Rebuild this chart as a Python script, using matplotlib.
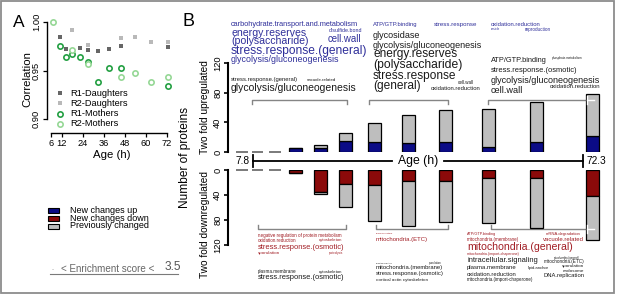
import matplotlib
matplotlib.use("Agg")
import matplotlib.pyplot as plt
from matplotlib.lines import Line2D
from matplotlib.patches import Rectangle
from matplotlib.transforms import blended_transform_factory

plt.rcParams['font.family'] = ['Liberation Sans', 'DejaVu Sans']

# ---------------- panel A data ----------------
AGE_TICKS = [6, 12, 24, 36, 48, 60, 72]
CORR_TICKS = [0.90, 0.95, 1.00]
R1_DAUGHTER_AGE = [11.1, 14.3, 22.5, 27.2, 32.5, 39.0, 45.8, 72.7]
R1_DAUGHTER_CORR = [0.985, 0.972, 0.973, 0.971, 0.970, 0.972, 0.975, 0.974]
R2_DAUGHTER_AGE = [18.1, 27.2, 45.8, 53.8, 62.9, 72.7]
R2_DAUGHTER_CORR = [0.992, 0.976, 0.983, 0.985, 0.979, 0.979]
R1_MOTHER_AGE = [11.1, 14.3, 18.1, 22.5, 27.2, 32.5, 39.0, 45.8, 72.7]
R1_MOTHER_CORR = [0.975, 0.964, 0.967, 0.964, 0.959, 0.938, 0.953, 0.953, 0.934]
R2_MOTHER_AGE = [7.3, 18.1, 27.2, 45.8, 53.8, 62.9, 72.7]
R2_MOTHER_CORR = [1.000, 0.971, 0.957, 0.943, 0.947, 0.938, 0.943]

# ---------------- panel B data ----------------
AGE_START, AGE_END = 7.8, 72.3
COUNT_TICKS = [0, 40, 80, 120]
EARLY_AGE = [5.6, 8.7, 12.1]          # time points with no changes
BAR_AGE = [16.2, 20.9, 25.8, 31.5, 38.1, 45.5, 53.9, 63.3, 74.1]
UP_NEW = [5, 5, 15, 13, 12, 14, 7, 13, 22]
UP_PREV = [0, 5, 10, 26, 38, 42, 51, 55, 56]
DOWN_NEW = [4, 35, 23, 24, 18, 18, 12, 12, 41]
DOWN_PREV = [0, 4, 36, 57, 72, 65, 72, 81, 71]
UP_GROUPS = [(7.6, 26.2), (30.5, 45.9), (53.7, 73.1)]
DOWN_GROUPS = [(8.8, 26.0), (31.8, 45.9), (54.3, 73.1)]
LEGEND_LABELS = ["New changes up", "New changes down", "Previously changed"]

UP_CLOUD_NEW = ["carbohydrate.transport.and.metabolism", "energy.reserves", "(polysaccharide)",
                "disulfide.bond", "cell.wall", "stress.response.(general)", "glycolysis/gluconeogenesis",
                "ATP/GTP.binding", "stress.response",
                "oxidation.reduction", "vesicle", "reproduction"]
UP_CLOUD_PREV = ["stress.response.(general)", "vacuole.related", "glycolysis/gluconeogenesis",
                 "glycosidase", "glycolysis/gluconeogenesis", "energy.reserves", "(polysaccharide)",
                 "stress.response", "(general)", "cell.wall", "oxidation.reduction",
                 "ATP/GTP.binding", "phosphate.metabolism", "stress.response.(osmotic)",
                 "glycolysis/gluconeogenesis", "cell.wall", "oxidation.reduction"]
DOWN_CLOUD_NEW = ["negative regulation of protein metabolism", "oxidation.reduction", "cytoskeleton",
                  "stress.response.(osmotic)", "sporulation", "proteolysis",
                  "phosphorylation", "mitochondria.(ETC)",
                  "ATP/GTP.binding", "mRNA.degradation", "mitochondria.(membrane)", "vacuole.related",
                  "mitochondria.(general)", "mitochondria.(import-chaperone)"]
DOWN_CLOUD_PREV = ["plasma.membrane", "cytoskeleton", "stress.response.(osmotic)",
                   "oxidation.reduction", "sporulation", "mitochondria.(membrane)",
                   "stress.response.(osmotic)", "cortical actin cytoskeleton",
                   "intracellular.signaling", "mitochondria.(general)", "mitochondria.(ETC)",
                   "plasma.membrane", "lipid.anchor", "sporulation", "endosome",
                   "oxidation.reduction", "DNA.replication", "mitochondria.(import-chaperone)"]

# layout of the word clouds: (left px, right px, centre y px)
UP_NEW_BOX = [(231, 360, 25), (231, 306, 32.5), (231, 308, 41), (329, 362, 31), (328, 362, 39.5),
              (231, 367, 51), (231, 339, 59.5),
              (373, 418, 24.5), (434, 477, 24.5),
              (491, 541, 24), (491, 500, 29), (525, 551, 30)]
UP_PREV_BOX = [(231, 298, 79), (307, 337, 79.5), (231, 357, 88),
               (373, 420, 35), (373, 482, 45.5), (373, 458, 54.5), (373, 462, 65.5), (373, 457, 76),
               (373, 421, 86.5), (458, 474, 83), (431, 481, 88.5),
               (491, 547, 60), (552, 582, 58), (491, 577, 70), (491, 600, 80.5), (491, 523, 90),
               (550, 601, 86)]
DOWN_NEW_BOX = [(258, 341, 236), (258, 296, 240.5), (319, 343, 240.5), (258, 344, 247.5),
                (258, 280, 253), (329, 343, 253),
                (376, 393, 233), (376, 428, 239),
                (467, 496, 234.5), (546, 581, 234.5), (467, 519, 240), (543, 584, 239.5),
                (467, 573, 247.5), (467, 520, 254)]
DOWN_PREV_BOX = [(258, 296, 272), (319, 343, 272), (258, 344, 277.5),
                 (376, 393, 263), (429, 442, 263), (376, 444, 267.5), (376, 443, 274),
                 (376, 427, 279.5),
                 (467, 537, 260), (554, 581, 257.5), (544, 584, 262), (467, 517, 267.5),
                 (528, 550, 268), (562, 584, 266.5), (563, 584, 270.5), (467, 517, 274.5),
                 (543, 584, 276), (467, 533, 279.5)]

BLUE, RED, GREY = '#0b0b86', '#8b0a0a', '#bebebe'
TXT_BLUE, TXT_RED, TXT_BLACK = '#2f2f9a', '#a11d24', '#1a1a1a'

W, H = 617, 295
fig = plt.figure(figsize=(W / 100, H / 100), dpi=100)
renderer = fig.canvas.get_renderer()


def fx(px):
    return px / W


def fy(py):
    return 1 - py / H


def add_axes_px(left, top, right, bottom):
    return fig.add_axes([fx(left), fy(bottom), fx(right) - fx(left), fy(top) - fy(bottom)])


def fit_text(word, color, x0, x1, y):
    t = fig.text(fx(x0), fy(y), word, fontsize=10, color=color, ha='left', va='center')
    width = t.get_window_extent(renderer=renderer).width
    t.set_fontsize(10 * (x1 - x0) / width)


# ---------------- panel A ----------------
axA = add_axes_px(47, 18, 170, 133)
pph_a = (167 - 51) / (72 - 6)
ppu_a = (119 - 22) / 0.10
axA.set_xlim(6 - 4 / pph_a, 72 + 3 / pph_a)
axA.set_ylim(0.90 - 14 / ppu_a, 1.00 + 4 / ppu_a)
axA.patch.set_alpha(0)

series = [
    (R1_DAUGHTER_AGE, R1_DAUGHTER_CORR, 'R1-Daughters', dict(marker='s', ms=3.2, color='#666666', mew=0)),
    (R2_DAUGHTER_AGE, R2_DAUGHTER_CORR, 'R2-Daughters', dict(marker='s', ms=3.2, color='#b9b9b9', mew=0)),
    (R1_MOTHER_AGE, R1_MOTHER_CORR, 'R1-Mothers', dict(marker='o', ms=3.8, mfc='white', mec='#24a043', mew=1.2)),
    (R2_MOTHER_AGE, R2_MOTHER_CORR, 'R2-Mothers', dict(marker='o', ms=3.8, mfc='white', mec='#96d896', mew=1.2)),
]
for x, y, label, style in series:
    axA.plot(x, y, linestyle='none', clip_on=False, **style)

for side in ['top', 'right']:
    axA.spines[side].set_visible(False)
axA.spines['left'].set_bounds(0.90, 1.00)
axA.spines['bottom'].set_bounds(6, 72)
axA.spines['left'].set_linewidth(1.0)
axA.spines['bottom'].set_linewidth(1.0)
axA.set_xticks(AGE_TICKS)
axA.set_yticks(CORR_TICKS)
axA.set_yticklabels(['%.2f' % v for v in CORR_TICKS], rotation=90, va='center')
axA.tick_params(labelsize=6.7, length=3, width=0.9, pad=1.5)

fig.text(fx(19), fy(22.5), 'A', fontsize=12.5, ha='center', va='center')
fig.text(fx(112), fy(155), 'Age (h)', fontsize=8.2, ha='center', va='center')
fig.text(fx(27.5), fy(79), 'Correlation', fontsize=8.2, rotation=90, ha='center', va='center')

for i, (x, y, label, style) in enumerate(series):
    row_y = [93, 103, 114, 124][i]
    fig.add_artist(Line2D([fx(60)], [fy(row_y)], transform=fig.transFigure, linestyle='none', **style))
    fig.text(fx(70), fy(row_y), label, fontsize=6.7, ha='left', va='center')

# ---------------- panel B ----------------
pph_b = (583 - 253) / (AGE_END - AGE_START)
x_lim = (AGE_START - (253 - 228) / pph_b, AGE_START + (610 - 253) / pph_b)
bar_w = 13 / pph_b

ax_up = add_axes_px(228, 63, 610, 152)
ax_dn = add_axes_px(228, 170, 610, 245)
ax_up.set_ylim(0, 120)
ax_dn.set_ylim(120, 0)

for ax in [ax_up, ax_dn]:
    ax.set_xlim(*x_lim)
    ax.patch.set_alpha(0)
    for side in ['top', 'right', 'bottom']:
        ax.spines[side].set_visible(False)
    ax.spines['left'].set_bounds(0, 120)
    ax.spines['left'].set_linewidth(1.5)
    ax.set_xticks([])
    ax.set_yticks(COUNT_TICKS)
    ax.set_yticklabels([str(v) for v in COUNT_TICKS], rotation=90, va='center')
    ax.tick_params(axis='y', labelsize=6.7, length=3.2, width=1.2, pad=1)
    ax.hlines([0] * len(EARLY_AGE), [a - bar_w * 0.45 for a in EARLY_AGE],
              [a + bar_w * 0.45 for a in EARLY_AGE], color='#7a7a7a', lw=1.4, clip_on=False)

ax_up.bar(BAR_AGE, UP_NEW, bar_w, color=BLUE, edgecolor='black', linewidth=0.9, zorder=2)
ax_up.bar(BAR_AGE, UP_PREV, bar_w, bottom=UP_NEW, color=GREY, edgecolor='black', linewidth=0.9, zorder=2)
ax_dn.bar(BAR_AGE, DOWN_NEW, bar_w, color=RED, edgecolor='black', linewidth=0.9, zorder=2)
ax_dn.bar(BAR_AGE, DOWN_PREV, bar_w, bottom=DOWN_NEW, color=GREY, edgecolor='black', linewidth=0.9, zorder=2)

# age axis between the two halves
blend = blended_transform_factory(ax_up.transData, fig.transFigure)
age_mid = (AGE_START + AGE_END) / 2
gap = 5.0
ax_up.plot([AGE_START, age_mid - gap], [fy(161)] * 2, transform=blend, color='black', lw=1.3, clip_on=False)
ax_up.plot([age_mid + gap, AGE_END], [fy(161)] * 2, transform=blend, color='black', lw=1.3, clip_on=False)
for a in [AGE_START, AGE_END]:
    ax_up.plot([a, a], [fy(155), fy(167)], transform=blend, color='black', lw=1.3, clip_on=False)
ax_up.annotate('%g' % AGE_START, xy=(AGE_START, fy(161.5)), xycoords=blend, xytext=(-2.2, 0),
               textcoords='offset points', ha='right', va='center', fontsize=7.3)
ax_up.annotate('%g' % AGE_END, xy=(AGE_END, fy(161.5)), xycoords=blend, xytext=(2.2, 0),
               textcoords='offset points', ha='left', va='center', fontsize=7.3)
ax_up.text(age_mid, fy(161), 'Age (h)', transform=blend, ha='center', va='center', fontsize=8.8)


def bracket(ax, a0, a1, ypx, tick_px):
    t = blended_transform_factory(ax.transData, fig.transFigure)
    ax.plot([a0, a0, a1, a1], [fy(ypx + tick_px), fy(ypx), fy(ypx), fy(ypx + tick_px)],
            transform=t, color='#858585', lw=1.0, clip_on=False, zorder=1)


for a0, a1 in UP_GROUPS:
    bracket(ax_up, a0, a1, 100, 4)
for a0, a1 in DOWN_GROUPS:
    bracket(ax_dn, a0, a1, 229, -4)

# bracket end that runs into the last bar shows up white
for ax, ypx in [(ax_up, 100), (ax_dn, 229)]:
    t = blended_transform_factory(ax.transData, fig.transFigure)
    a_end = UP_GROUPS[-1][1]
    ax.plot([a_end, a_end], [fy(ypx - 4), fy(ypx + 4)], transform=t, color='white', lw=1.0,
            clip_on=False, zorder=3)
    ax.plot([a_end, a_end + 1.4], [fy(ypx)] * 2, transform=t, color='white', lw=1.0,
            clip_on=False, zorder=3)

fig.text(fx(188), fy(22), 'B', fontsize=13, ha='center', va='center')
fig.text(fx(185), fy(157), 'Number of proteins', fontsize=8.6, rotation=90, ha='center', va='center')
fig.text(fx(205), fy(107), 'Two fold upregulated', fontsize=7.3, rotation=90, ha='center', va='center')
fig.text(fx(205), fy(224), 'Two fold downregulated', fontsize=7.3, rotation=90, ha='center', va='center')

for words, boxes, color in [(UP_CLOUD_NEW, UP_NEW_BOX, TXT_BLUE), (UP_CLOUD_PREV, UP_PREV_BOX, TXT_BLACK),
                            (DOWN_CLOUD_NEW, DOWN_NEW_BOX, TXT_RED), (DOWN_CLOUD_PREV, DOWN_PREV_BOX, TXT_BLACK)]:
    for word, (x0, x1, y) in zip(words, boxes):
        fit_text(word, color, x0, x1, y)

# legend for the bars
for label, color, row_y in zip(LEGEND_LABELS, [BLUE, RED, GREY], [210.5, 218.3, 226]):
    fig.add_artist(Rectangle((fx(48), fy(row_y + 2.5)), fx(11), 5 / H, transform=fig.transFigure,
                             facecolor=color, edgecolor='black', linewidth=0.8))
    fig.text(fx(70), fy(row_y), label, fontsize=6.5, ha='left', va='center')

# enrichment score scale
fig.text(fx(52), fy(269), '..', fontsize=4, color='#888888', ha='left', va='center')
fig.text(fx(61), fy(268.5), '< Enrichment score <', fontsize=7.1, color='#666666', ha='left', va='center')
fig.text(fx(165), fy(267.5), '3.5', fontsize=8.6, color='#555555', ha='left', va='center')
fig.add_artist(Line2D([fx(50), fx(178)], [fy(274)] * 2, transform=fig.transFigure, color='#7a7a7a', lw=0.8))

# frame round the whole figure
fig.add_artist(Rectangle((fx(1), fy(293)), fx(613), 292 / H, transform=fig.transFigure,
                         facecolor='none', edgecolor='#8c8c8c', linewidth=1.3))

fig.savefig('out.png', dpi=100)
